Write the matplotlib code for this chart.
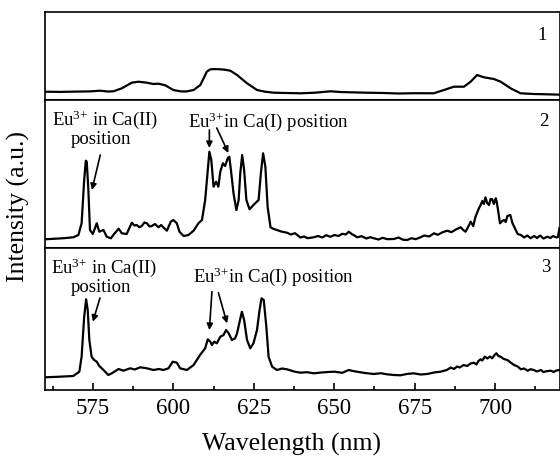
import matplotlib
matplotlib.use('Agg')
import matplotlib.pyplot as plt
from matplotlib.ticker import MultipleLocator

plt.rcParams['font.family'] = ['Liberation Serif', 'DejaVu Serif']
plt.rcParams['mathtext.fontset'] = 'custom'
plt.rcParams['mathtext.rm'] = 'Liberation Serif'
plt.rcParams['mathtext.it'] = 'Liberation Serif:italic'

# ---- Data (wavelength nm, intensity a.u.) ----
wl1 = [560.1, 565.0, 570.0, 574.0, 577.2, 579.5, 581.4, 584.0, 587.1, 589.2, 591.8, 593.8,
       595.4, 597.5, 600.0, 602.1, 604.0, 606.3, 608.4, 610.4, 611.5, 613.0, 614.6, 616.0,
       617.7, 619.8, 622.9, 626.0, 628.5, 631.2, 635.0, 639.5, 644.0, 648.8, 652.0, 655.0,
       660.0, 665.4, 670.0, 675.0, 680.9, 684.1, 687.2, 690.3, 692.4, 694.4, 696.5, 699.6,
       701.7, 704.8, 707.9, 712.1, 716.0, 720.3]
int1 = [7.8, 7.6, 7.9, 8.1, 8.8, 8.0, 8.2, 11.2, 16.8, 17.8, 16.8, 15.5,
        15.8, 14.2, 9.5, 8.2, 8.0, 9.5, 14.5, 27.8, 30.2, 30.4, 30.2, 29.8,
        28.8, 24.5, 16.2, 9.5, 7.8, 6.8, 6.5, 6.2, 6.8, 8.2, 7.5, 7.2,
        6.8, 6.5, 6.0, 6.3, 6.2, 9.5, 12.8, 12.8, 17.8, 24.5, 22.2, 20.5,
        17.8, 11.2, 6.2, 5.5, 5.2, 4.8]

wl2 = [560.1, 563.0, 566.0, 568.9, 570.5, 571.5, 572.3, 572.8, 573.1, 573.6, 574.1, 575.0,
       576.2, 577.0, 578.3, 579.3, 580.6, 581.6, 583.0, 584.0, 585.5, 587.1, 587.9, 588.6,
       589.4, 590.2, 591.0, 591.8, 592.6, 593.3, 594.3, 595.4, 596.2, 596.9, 598.0, 599.2,
       600.0, 601.1, 601.9, 603.2, 604.7, 606.3, 607.8, 608.9, 609.9, 610.6, 611.2, 611.8,
       612.5, 613.3, 614.0, 614.6, 615.4, 616.1, 616.9, 617.4, 617.9, 618.7, 619.6, 620.3,
       620.8, 621.4, 622.0, 622.7, 623.7, 624.9, 626.5, 627.2, 627.9, 628.6, 629.3, 630.2,
       631.2, 632.2, 633.5, 635.3, 636.5, 637.8, 639.5, 640.6, 641.7, 643.6, 645.0, 646.3,
       647.5, 648.8, 650.1, 651.3, 652.5, 653.6, 654.5, 655.5, 656.3, 657.1, 658.5, 660.0,
       661.2, 662.3, 663.8, 665.0, 666.5, 668.5, 670.0, 671.3, 672.7, 674.0, 675.3, 676.8,
       678.0, 679.5, 681.0, 682.2, 683.5, 685.1, 686.4, 687.8, 689.3, 690.1, 690.8, 691.6,
       692.4, 693.2, 693.9, 694.5, 695.0, 695.5, 696.0, 696.5, 697.0, 697.5, 698.1, 698.6,
       699.1, 699.6, 700.2, 700.5, 700.9, 701.5, 702.2, 702.8, 703.3, 703.8, 704.7, 705.4,
       706.4, 707.0, 708.0, 709.0, 710.0, 711.0, 712.1, 713.0, 714.0, 715.0, 716.3, 717.2,
       718.0, 719.0, 719.5, 720.0]
int2 = [8.7, 9.2, 9.8, 10.7, 13.0, 24.7, 68.0, 87.3, 86.3, 58.0, 18.0, 14.0,
        24.7, 16.3, 18.0, 11.3, 9.7, 14.0, 19.3, 14.7, 14.0, 25.3, 22.5, 23.0,
        20.8, 22.0, 25.5, 24.7, 21.5, 22.0, 24.0, 20.7, 23.0, 20.7, 17.3, 26.3,
        28.0, 24.7, 16.3, 12.0, 13.0, 17.3, 24.7, 28.0, 48.0, 74.7, 96.3, 88.0,
        61.3, 66.3, 61.3, 76.3, 84.7, 82.0, 89.7, 91.3, 78.0, 54.7, 38.0, 48.0,
        74.7, 93.0, 78.0, 48.0, 38.7, 43.0, 48.0, 74.7, 94.7, 81.3, 41.3, 20.7,
        19.0, 18.0, 16.5, 15.3, 13.5, 14.8, 10.5, 11.5, 9.8, 10.7, 12.0, 10.5,
        12.8, 11.2, 13.0, 12.0, 14.2, 13.5, 16.3, 13.8, 12.5, 10.7, 11.8, 9.5,
        10.8, 9.7, 8.5, 10.2, 8.8, 9.0, 10.5, 8.3, 8.0, 9.8, 8.8, 10.7,
        12.5, 11.5, 14.7, 13.2, 15.5, 17.3, 15.8, 18.5, 20.7, 18.0, 16.3, 21.0,
        26.3, 22.0, 31.3, 36.0, 40.0, 43.0, 47.0, 44.0, 50.7, 45.0, 43.0, 49.0,
        48.7, 44.0, 49.7, 46.0, 38.0, 24.7, 27.0, 28.0, 26.0, 32.0, 33.0, 24.7,
        18.0, 14.0, 13.0, 10.5, 12.5, 9.8, 12.0, 10.0, 12.5, 9.5, 11.3, 10.0,
        12.0, 10.5, 11.0, 20.0]

wl3 = [560.1, 564.0, 568.9, 570.8, 571.5, 572.3, 572.9, 573.4, 573.9, 574.6, 575.4, 576.2,
       577.0, 578.3, 579.8, 580.9, 583.0, 584.5, 586.6, 588.0, 589.7, 591.8, 593.8, 595.5,
       596.9, 598.5, 599.8, 601.1, 602.1, 604.2, 606.3, 608.3, 609.9, 610.7, 611.5, 612.0,
       612.7, 613.5, 614.6, 615.6, 616.4, 617.2, 618.2, 619.2, 619.8, 620.6, 621.3, 622.0,
       622.9, 623.9, 624.9, 626.0, 626.8, 627.4, 628.1, 628.9, 629.6, 630.7, 632.2, 633.8,
       635.3, 637.5, 639.5, 641.5, 643.6, 646.0, 648.0, 650.1, 652.5, 654.5, 655.8, 657.1,
       659.5, 662.3, 664.5, 666.4, 668.5, 670.6, 672.5, 674.7, 676.8, 678.9, 681.0, 683.0,
       685.0, 686.2, 687.2, 688.2, 689.0, 690.2, 691.3, 692.4, 693.4, 694.2, 694.8, 695.5,
       696.0, 696.8, 697.6, 698.4, 699.1, 699.8, 700.4, 701.0, 701.7, 702.7, 703.8, 704.8,
       705.9, 707.0, 708.0, 709.0, 710.1, 711.0, 712.0, 713.0, 714.2, 715.0, 716.0, 717.3,
       718.2, 719.0, 720.2]
int3 = [12.7, 13.2, 14.0, 18.3, 33.3, 73.3, 90.7, 80.0, 50.0, 33.3, 30.0, 28.3,
        24.0, 20.0, 15.0, 16.7, 21.0, 19.3, 21.7, 20.5, 22.7, 21.7, 20.0, 21.0,
        20.0, 21.7, 28.3, 27.3, 21.7, 20.0, 25.0, 35.0, 41.7, 50.7, 48.3, 45.0,
        48.3, 46.7, 53.3, 55.0, 60.0, 56.7, 50.0, 51.7, 56.7, 68.3, 78.3, 70.0,
        50.0, 41.7, 46.7, 60.0, 80.0, 91.7, 90.0, 63.3, 33.3, 23.3, 20.0, 21.5,
        20.7, 18.5, 17.3, 17.8, 16.7, 17.5, 18.0, 18.3, 17.2, 20.0, 19.0, 18.3,
        17.0, 16.0, 16.8, 15.7, 15.0, 14.7, 16.0, 16.7, 15.5, 16.0, 17.5, 18.3,
        20.0, 22.5, 21.0, 23.5, 22.5, 25.0, 24.0, 26.5, 27.3, 25.5, 29.0, 30.7,
        29.5, 33.3, 31.5, 33.5, 31.7, 35.0, 36.7, 34.0, 33.3, 31.0, 30.0, 27.5,
        25.0, 23.5, 20.7, 21.5, 19.3, 20.8, 20.0, 18.5, 20.0, 18.0, 18.8, 19.3,
        18.0, 19.5, 20.0]

panel_labels = ['1', '2', '3']
ann_ca2 = 'Eu$^{3{+}}$ in Ca(II)'
ann_ca1 = 'Eu$^{3{+}}$in Ca(I) position'

fig = plt.figure(figsize=(5.6, 4.59), dpi=100)
gs = fig.add_gridspec(3, 1, height_ratios=[87.5, 148.5, 142], hspace=0,
                      left=44.6/560, right=559.5/560, top=1-12/459, bottom=1-390/459)
axes = [fig.add_subplot(gs[i]) for i in range(3)]
series = [(wl1, int1, 87.5), (wl2, int2, 148.5), (wl3, int3, 142)]

for i, (ax, (w, v, ymax)) in enumerate(zip(axes, series)):
    ax.plot(w, v, color='black', lw=1.6)
    ax.set_xlim(560, 720)
    ax.set_ylim(0, ymax)
    ax.set_yticks([])
    for s in ax.spines.values():
        s.set_linewidth(1.2)
    if i < 2:
        ax.tick_params(axis='x', bottom=False, labelbottom=False)
        ax.spines['bottom'].set_linewidth(2.2)

axb = axes[2]
axb.xaxis.set_major_locator(MultipleLocator(25))
axb.xaxis.set_minor_locator(MultipleLocator(12.5))
axb.tick_params(axis='x', which='major', direction='in', length=5, width=1.2,
                labelsize=16.5, pad=6)
axb.tick_params(axis='x', which='minor', direction='in', length=3, width=1.2)

axes[0].text(714.5, 63.5, panel_labels[0], fontsize=13.5, ha='center', va='center')
axes[1].text(715.1, 126, panel_labels[1], fontsize=13.5, ha='center', va='center')
axes[2].text(715.7, 122, panel_labels[2], fontsize=13.5, ha='center', va='center')

arrow = dict(arrowstyle='-|>', color='black', lw=1.2, mutation_scale=9,
             shrinkA=0, shrinkB=0)

# panel 2 annotations
a = axes[1]
a.text(578.8, 128, ann_ca2, fontsize=13.5, ha='center', va='center')
a.text(577.5, 108, 'position', fontsize=13.5, ha='center', va='center')
a.annotate('', xy=(574.7, 58), xytext=(577.3, 93), arrowprops=arrow)
a.text(604.7, 126.3, ann_ca1, fontsize=13.5, ha='left', va='center')
a.annotate('', xy=(611.2, 100), xytext=(611.2, 118), arrowprops=arrow)
a.annotate('', xy=(617.1, 95), xytext=(613.5, 120), arrowprops=arrow)

# panel 3 annotations
a = axes[2]
a.text(578.5, 122, ann_ca2, fontsize=13.5, ha='center', va='center')
a.text(577.5, 103, 'position', fontsize=13.5, ha='center', va='center')
a.annotate('', xy=(575.0, 68.3), xytext=(577.2, 92), arrowprops=arrow)
a.text(606.2, 113.3, ann_ca1, fontsize=13.5, ha='left', va='center')
a.annotate('', xy=(611.2, 60), xytext=(612.0, 98.3), arrowprops=arrow)
a.annotate('', xy=(616.7, 66.7), xytext=(614.0, 97.3), arrowprops=arrow)

fig.text(291/560, 1-444/459, 'Wavelength (nm)', fontsize=18.5, ha='center', va='center')
fig.text(18/560, 1-207/459, 'Intensity (a.u.)', fontsize=18.5, ha='center', va='center',
         rotation=90)

fig.savefig('out.png', dpi=100)
